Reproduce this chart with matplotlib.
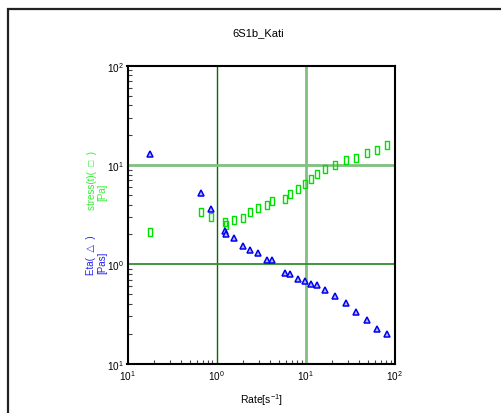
import matplotlib
matplotlib.use("Agg")
import matplotlib.pyplot as plt
from matplotlib.ticker import FixedLocator, FixedFormatter, LogLocator, NullFormatter
from matplotlib.patches import Rectangle

plt.rcParams['font.family'] = ['Liberation Sans', 'DejaVu Sans']
plt.rcParams['mathtext.fontset'] = 'custom'
plt.rcParams['mathtext.rm'] = 'Liberation Sans'
plt.rcParams['mathtext.it'] = 'Liberation Sans'

title = "6S1b_Kati"
rate = [0.177, 0.673, 0.857, 1.236, 1.285, 1.56, 2.0, 2.40, 2.94, 3.65, 4.15,
        5.91, 6.70, 8.13, 9.72, 11.5, 13.5, 16.6, 21.6, 28.5, 36.8, 48.9, 63.5, 81.1]
eta = [12.9, 5.22, 3.61, 2.19, 2.00, 1.84, 1.52, 1.40, 1.30, 1.10, 1.10,
       0.823, 0.793, 0.716, 0.674, 0.634, 0.615, 0.547, 0.476, 0.405, 0.329, 0.273, 0.225, 0.197]
stress = [2.12, 3.35, 2.97, 2.65, 2.49, 2.78, 2.90, 3.36, 3.67, 3.93, 4.34,
          4.60, 5.11, 5.69, 6.44, 7.18, 8.06, 9.05, 10.07, 11.15, 11.85, 13.1, 14.2, 15.8]
major_ticks = [0.1, 1, 10, 100]
tick_labels = [r'$\mathregular{10^{1}}$', r'$\mathregular{10^{0}}$',
               r'$\mathregular{10^{1}}$', r'$\mathregular{10^{2}}$']
grid_values = [1, 10]

W, H = 501, 414
fig = plt.figure(figsize=(W / 100, H / 100), dpi=100)
fig.patch.set_facecolor('white')

# outer frame
fig.patches.append(Rectangle((7.5 / W, -0.05), 1.2, 1 - 9.5 / H + 0.05,
                             transform=fig.transFigure, fill=False,
                             edgecolor='#222222', linewidth=1.6))

x0, x1 = 127.5, 394.7
y0, y1 = 66.7, 364.7
ax = fig.add_axes([x0 / W, 1 - y1 / H, (x1 - x0) / W, (y1 - y0) / H])
ax.set_xscale('log')
ax.set_yscale('log')
ax.set_xlim(0.1, 100)
ax.set_ylim(0.1, 100)

# grid lines
ax.axvline(grid_values[0], color='#0a6a0a', lw=1.0, zorder=1)
ax.axvline(grid_values[1], color='#80c080', lw=2.0, zorder=1)
ax.axhline(grid_values[1], color='#80c080', lw=2.0, zorder=1)
ax.axhline(grid_values[0], color='#2e8f2e', lw=1.3, zorder=1)

sq = [(-0.3, -0.5), (0.3, -0.5), (0.3, 0.5), (-0.3, 0.5), (-0.3, -0.5)]
ax.plot(rate, stress, linestyle='none', marker=sq, markersize=5.5,
        markerfacecolor='none', markeredgecolor='#00e000', markeredgewidth=1.0, zorder=3)
ax.plot(rate, eta, linestyle='none', marker='^', markersize=4.3,
        markerfacecolor='#b8b8ff', markeredgecolor='#0000ee', markeredgewidth=1.1, zorder=3)

for s in ax.spines.values():
    s.set_linewidth(1.5)
    s.set_color('black')

for axis in (ax.xaxis, ax.yaxis):
    axis.set_major_locator(FixedLocator(major_ticks))
    axis.set_major_formatter(FixedFormatter(tick_labels))
    axis.set_minor_locator(LogLocator(base=10, subs=range(2, 10)))
    axis.set_minor_formatter(NullFormatter())
ax.tick_params(which='both', direction='in', top=False, right=False)
ax.tick_params(which='major', length=0, labelsize=7.2, pad=3)
ax.tick_params(which='minor', length=3, width=0.8, color='#444444')
ax.tick_params(axis='y', which='major', pad=2.5)

fig.text(258 / W, 1 - 33 / H, title, ha='center', va='center', fontsize=8)
fig.text(261 / W, 1 - 400 / H, r'Rate[s$^{\mathregular{-1}}$]', ha='center', va='center', fontsize=7.5)

green = '#33ee33'
blue = '#2222ee'
fig.text(92 / W, 1 - 210 / H, 'stress(t)(  \u25a1  )', rotation=90, rotation_mode='anchor',
         ha='left', va='center', fontsize=7, color=green)
fig.text(102.5 / W, 1 - 201 / H, '[Pa]', rotation=90, rotation_mode='anchor',
         ha='left', va='center', fontsize=7, color=green)
fig.text(91.5 / W, 1 - 275 / H, 'Eta(  \u25b3  )', rotation=90, rotation_mode='anchor',
         ha='left', va='center', fontsize=7, color=blue)
fig.text(102 / W, 1 - 274 / H, '[Pas]', rotation=90, rotation_mode='anchor',
         ha='left', va='center', fontsize=7, color=blue)

fig.savefig('out.png', dpi=100)
